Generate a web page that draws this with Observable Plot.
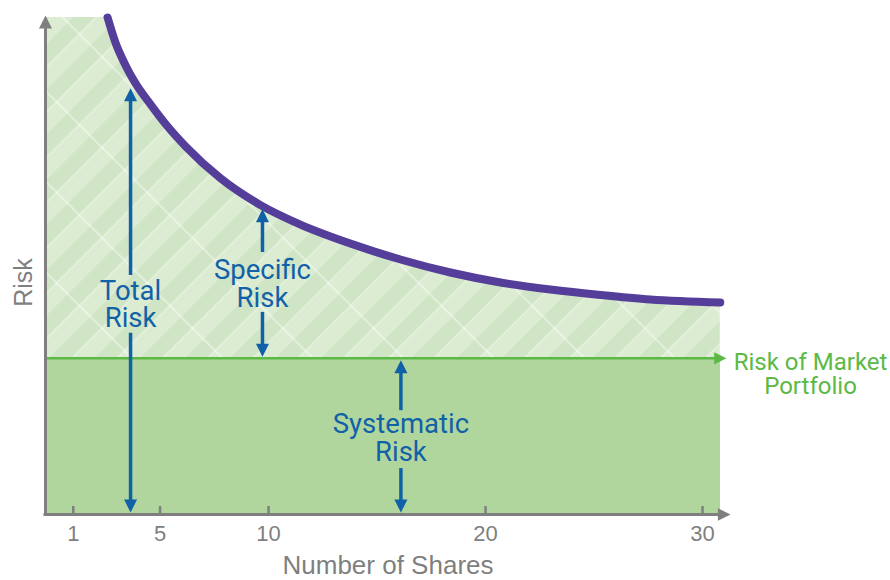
<!DOCTYPE html>
<html>
<head>
<meta charset="utf-8">
<script src="https://cdn.jsdelivr.net/npm/d3@7"></script>
<script src="https://cdn.jsdelivr.net/npm/@observablehq/plot@0.6"></script>
<style>
  body { margin: 0; background: #ffffff; }
  #chart svg { display: block; }
</style>
</head>
<body>
<div id="chart"></div>
<script>
// ---- data ----
const shares = [2.58, 2.94, 3.41, 3.87, 4.56, 5.34, 6.17, 7.78, 9.63, 11.47, 13.77, 16.08, 18.38, 20.69, 22.99, 25.3, 27.6, 30.82];
const totalRisk = [99.6, 94.6, 90.0, 86.4, 82.2, 77.8, 73.8, 67.4, 62.0, 58.1, 54.3, 51.1, 48.5, 46.5, 45.1, 44.0, 43.1, 42.5];
const marketRisk = 31.3;
const xTicks = [1, 5, 10, 20, 30];
const xMin = -0.28, xMax = 31.29, xEnd = 30.83, yMax = 100;

const arrowLabels = ["Total\nRisk", "Specific\nRisk", "Systematic\nRisk"];
const arrowX = [3.64, 9.72, 16.1];
const arrowTop = [85.4, 61.2, 30.9];
const arrowBottom = [0.4, 31.6, 0.4];
const gapTop = [47.9, 52.5, 20.8];
const gapBottom = [36.3, 40.5, 9.2];
const labelY = [42.0, 46.2, 15.3];
const yTitleY = 46.5;

const marketLabel = "Risk of Market\nPortfolio";
const xTitle = "Number of Shares";
const yTitle = "Risk";

// ---- styling ----
const gray = "#7f7f7f", blue = "#1161a8", green = "#5cb946", purple = "#553d9a";
const headUnits = 2.3; // arrowhead length in y units (for shaft ends)

function tri(dir) {
  return {
    draw(ctx, size) {
      const r = Math.sqrt(size / Math.PI);
      const L = 2.1 * r, W = 1.05 * r;
      if (dir === "up") { ctx.moveTo(0, 0); ctx.lineTo(W, L); ctx.lineTo(-W, L); }
      else if (dir === "down") { ctx.moveTo(0, 0); ctx.lineTo(W, -L); ctx.lineTo(-W, -L); }
      else { ctx.moveTo(0, 0); ctx.lineTo(-L, W); ctx.lineTo(-L, -W); }
      ctx.closePath();
    }
  };
}

function defsMark() {
  const ns = "http://www.w3.org/2000/svg";
  const d = document.createElementNS(ns, "defs");
  d.innerHTML = `
    <pattern id="stripes" patternUnits="userSpaceOnUse" width="32" height="32" patternTransform="rotate(45)">
      <rect width="32" height="32" fill="#dcecd2"/>
      <rect width="16" height="32" fill="#cfe5c5"/>
      <line x1="16" y1="0" x2="16" y2="32" stroke="#ffffff" stroke-width="0.8" stroke-opacity="0.7"/>
    </pattern>
    <pattern id="xlines" patternUnits="userSpaceOnUse" width="64" height="64" patternTransform="rotate(-45)">
      <line x1="32" y1="0" x2="32" y2="64" stroke="#ffffff" stroke-width="1" stroke-opacity="0.8"/>
    </pattern>`;
  return d;
}

const curveData = shares.map((x, i) => ({x, y: totalRisk[i]}));
const areaData = [{x: xMin, y: totalRisk[0]}, ...curveData];
const idx = arrowX.map((_, i) => i);
const labelFont = "Roboto, 'Noto Sans', sans-serif";

const chart = Plot.plot({
  width: 890,
  height: 580,
  marginTop: 15,
  marginBottom: 66,
  marginLeft: 45,
  marginRight: 160,
  x: {domain: [xMin, xMax], ticks: xTicks, tickSize: 0, tickPadding: 11, label: null, tickFormat: d => String(d)},
  y: {domain: [0, yMax], axis: null},
  style: {fontFamily: "'Liberation Sans', Arial, sans-serif", fontSize: "22px", color: gray, background: "#ffffff", overflow: "visible"},
  marks: [
    defsMark,
    // systematic area
    Plot.rect([0], {x1: xMin, x2: xEnd, y1: 0, y2: marketRisk, fill: "#b0d69e"}),
    // specific (hatched) area
    Plot.areaY(areaData, {x: "x", y1: marketRisk, y2: "y", fill: "url(#stripes)", curve: "monotone-x"}),
    Plot.areaY(areaData, {x: "x", y1: marketRisk, y2: "y", fill: "url(#xlines)", curve: "monotone-x"}),
    // market line with head
    Plot.ruleY([marketRisk], {x1: xMin, x2: 30.6, stroke: green, strokeWidth: 2.5}),
    Plot.dot([marketRisk], {x: 31.1, y: d => d, symbol: tri("right"), r: 5.8, fill: green}),
    // axes
    Plot.ruleY([0], {x1: -0.35, x2: 30.9, stroke: gray, strokeWidth: 3}),
    Plot.ruleX([xMin], {y1: 0, y2: 97.8, stroke: gray, strokeWidth: 3}),
    Plot.ruleX(xTicks, {y1: 0, y2: 1.6, stroke: gray, strokeWidth: 2.5}),
    Plot.dot([0], {x: xMax, y: 0, symbol: tri("right"), r: 6, fill: gray}),
    Plot.dot([0], {x: xMin, y: yMax, symbol: tri("up"), r: 6.2, fill: gray}),
    // total risk curve
    Plot.line(curveData, {x: "x", y: "y", stroke: purple, strokeWidth: 8, strokeLinecap: "round", curve: "monotone-x"}),
    // annotation arrows
    Plot.ruleX(idx, {x: i => arrowX[i], y1: i => gapTop[i], y2: i => arrowTop[i] - headUnits, stroke: blue, strokeWidth: 3.5}),
    Plot.ruleX(idx, {x: i => arrowX[i], y1: i => gapBottom[i], y2: i => arrowBottom[i] + headUnits, stroke: blue, strokeWidth: 3.5}),
    Plot.dot(idx, {x: i => arrowX[i], y: i => arrowTop[i], symbol: tri("up"), r: 6.2, fill: blue}),
    Plot.dot(idx, {x: i => arrowX[i], y: i => arrowBottom[i], symbol: tri("down"), r: 6.2, fill: blue}),
    Plot.text(idx, {x: i => arrowX[i], y: i => labelY[i], text: i => arrowLabels[i], fill: blue, fontSize: 27.5, lineHeight: 1.0, fontFamily: labelFont}),
    // market label
    Plot.text([marketLabel], {x: xMax, y: marketRisk, dx: 80, dy: 16, text: d => d, fill: green, fontSize: 24, lineHeight: 1.0, fontFamily: labelFont}),
    // axis titles
    Plot.text([xTitle], {frameAnchor: "bottom", lineAnchor: "middle", textAnchor: "middle", dy: 51, text: d => d, fill: gray, fontSize: 26}),
    Plot.text([yTitle], {x: xMin, y: yTitleY, dx: -22, rotate: -90, textAnchor: "middle", lineAnchor: "middle", text: d => d, fill: gray, fontSize: 25})
  ]
});

document.getElementById("chart").appendChild(chart);
</script>
</body>
</html>
